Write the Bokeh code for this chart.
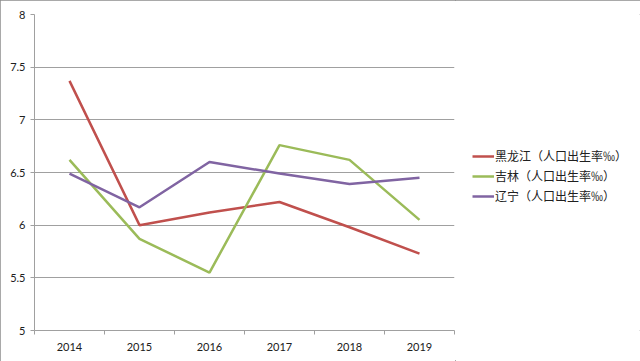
from bokeh.plotting import figure
from bokeh.layouts import row
from bokeh.models import FixedTicker, Legend, LegendItem, Range1d
from bokeh.embed import file_html
from bokeh.resources import INLINE

years = ["2014", "2015", "2016", "2017", "2018", "2019"]
heilongjiang = [7.37, 6.00, 6.12, 6.22, 5.98, 5.73]
jilin = [6.62, 5.87, 5.55, 6.76, 6.62, 6.05]
liaoning = [6.49, 6.17, 6.60, 6.49, 6.39, 6.45]
y_ticks = [5, 5.5, 6, 6.5, 7, 7.5, 8]
names = ["黑龙江（人口出生率‰）", "吉林（人口出生率‰）", "辽宁（人口出生率‰）"]
colors = ["#C0504D", "#9BBB59", "#8064A2"]

xs = [i + 0.5 for i in range(len(years))]
series = [heilongjiang, jilin, liaoning]

p = figure(width=455, height=361, output_backend="svg", toolbar_location=None,
           x_range=Range1d(0, len(years)), y_range=Range1d(5, 8),
           min_border_left=34, min_border_top=14, min_border_bottom=31, min_border_right=1)
p.outline_line_color = None
p.background_fill_color = "white"
p.border_fill_color = "white"

p.xaxis.ticker = FixedTicker(ticks=xs, minor_ticks=list(range(len(years) + 1)))
p.xaxis.major_label_overrides = {x: y for x, y in zip(xs, years)}
p.xaxis.major_tick_out = 0
p.xaxis.major_tick_in = 0
p.xaxis.minor_tick_out = 4
p.xaxis.minor_tick_in = 0
p.xaxis.minor_tick_line_color = "#a0a0a0"
p.xaxis.axis_line_color = "#a0a0a0"
p.xaxis.major_label_standoff = 8

p.yaxis.ticker = FixedTicker(ticks=y_ticks)
p.yaxis.major_label_overrides = {5: "5", 5.5: "5.5", 6: "6", 6.5: "6.5", 7: "7", 7.5: "7.5", 8: "8"}
p.yaxis.minor_tick_line_color = None
p.yaxis.major_tick_out = 4
p.yaxis.major_tick_in = 0
p.yaxis.major_tick_line_color = "#a0a0a0"
p.yaxis.axis_line_color = "#a0a0a0"
p.yaxis.major_label_standoff = 5

for ax in (p.xaxis, p.yaxis):
    ax.major_label_text_font = "Lato"
    ax.major_label_text_font_size = "11px"
    ax.major_label_text_color = "#202020"

p.xgrid.grid_line_color = None
p.ygrid.ticker = FixedTicker(ticks=y_ticks)
p.ygrid.grid_line_color = "#a0a0a0"
p.ygrid.grid_line_width = 1

for data, c in zip(series, colors):
    p.line(xs, data, line_color=c, line_width=2.5)

# legend panel: same series drawn outside its visible range, only for legend glyphs
q = figure(width=185, height=361, output_backend="svg", toolbar_location=None,
           x_range=Range1d(100, 101), y_range=Range1d(100, 101),
           min_border=0)
q.axis.visible = False
q.grid.visible = False
q.outline_line_color = None
q.border_fill_color = "white"
items = []
for name, data, c in zip(names, series, colors):
    r = q.line(xs, data, line_color=c, line_width=2.5)
    items.append(LegendItem(label=name, renderers=[r]))
legend = Legend(items=items, location=(17, 126), border_line_color=None,
                background_fill_alpha=0, label_text_font="Noto Sans CJK SC",
                label_text_font_size="12px", label_text_color="#202020",
                glyph_width=22, glyph_height=14, label_standoff=1, spacing=3,
                padding=0, margin=0)
q.add_layout(legend, "center")

layout = row(p, q, spacing=0)
layout.styles = {"outline": "1px solid #8c8c8c", "outline-offset": "-1px"}

open("out.html", "w").write(file_html(layout, INLINE))
